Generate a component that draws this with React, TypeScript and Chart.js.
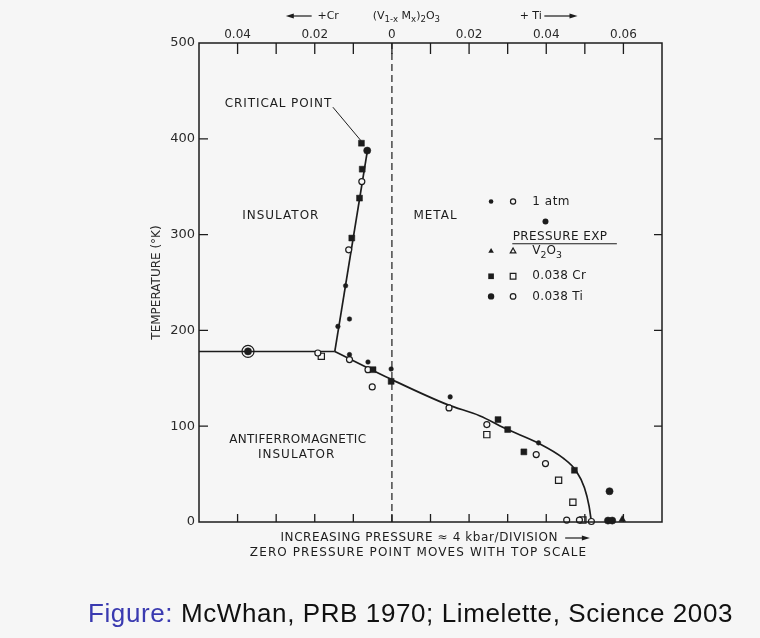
import React, { useEffect, useRef } from "react";
import { Chart, registerables } from "chart.js";

Chart.register(...registerables);

const BG = "#f6f6f6";
const INK = "#1c1c1c";
const FONT = "'DejaVu Sans', sans-serif";

// x: composition x in (V1-x Mx)2O3 (negative = Cr side, positive = Ti side); y: temperature (K)
const xMin = -0.05;
const xMax = 0.07;
const xStep = 0.01;
const yMin = 0;
const yMax = 500;
const yStep = 100;
const topTickValues = [-0.04, -0.02, 0, 0.02, 0.04, 0.06];
const topTickLabels = ["0.04", "0.02", "0", "0.02", "0.04", "0.06"];

// phase boundaries
const pmBoundaryX = [-0.05, -0.0148];
const pmBoundaryT = [178, 178];
const miBoundaryX = [-0.0148, -0.0063];
const miBoundaryT = [178, 389];
const afiBoundaryX = [-0.0148, 0.0, 0.0144, 0.0227, 0.03, 0.0378, 0.0443, 0.0478, 0.0499, 0.0511, 0.0517];
const afiBoundaryT = [178, 148.6, 122.5, 111, 96.5, 82.6, 66.9, 53, 35.7, 16.5, 0];
const zeroLineX = [0, 0];
const zeroLineT = [0, 500];

// data points (1 atm and pressure experiments)
const smallDotX = [-0.012, -0.011, -0.014, -0.011, -0.0062, -0.0002, 0.0151, 0.038];
const smallDotT = [246.6, 211.9, 204.2, 174.7, 167.0, 159.7, 130.6, 82.6];
const filledCircleX = [-0.0064, -0.0373, 0.0564, 0.056, 0.0571];
const filledCircleT = [387.7, 178.1, 32.1, 1.5, 1.5];
const ringX = [-0.0373];
const ringT = [178.1];
const filledSquareX = [-0.0079, -0.0077, -0.0084, -0.0104, -0.0049, -0.0002, 0.0275, 0.03, 0.0342, 0.0473];
const filledSquareT = [395.4, 368.3, 338.1, 296.4, 159.0, 146.8, 106.9, 96.5, 73.2, 54.0];
const openCircleX = [-0.0078, -0.0112, -0.0192, -0.011, -0.0062, -0.0051, 0.0148, 0.0246, 0.0374, 0.0398, 0.0453, 0.0486, 0.0517];
const openCircleT = [355.4, 284.1, 176.4, 169.5, 159.0, 141.0, 119.1, 101.7, 70.4, 61.0, 2, 2, 0.5];
const openSquareX = [-0.0183, 0.0246, 0.0432, 0.0469, 0.0495];
const openSquareT = [172.9, 91.2, 43.6, 20.6, 2];
const filledTriangleX = [0.0597];
const filledTriangleT = [2.5];

const zip = (xs: number[], ys: number[]) => xs.map((x, i) => ({ x, y: ys[i] }));

function drawText(ctx: any, s: string, x: number, y: number, size: number, align: string = "center", spacing = 0) {
  ctx.font = `${size}px ${FONT}`;
  ctx.textAlign = align;
  ctx.textBaseline = "middle";
  ctx.letterSpacing = `${spacing}px`;
  ctx.fillText(s, x, y);
  ctx.letterSpacing = "0px";
}

function drawPieces(ctx: any, pieces: [string, number][], x: number, y: number, size: number) {
  let cx = x;
  ctx.textAlign = "left";
  ctx.textBaseline = "middle";
  for (const [s, sub] of pieces) {
    const fs = sub ? size * 0.78 : size;
    ctx.font = `${fs}px ${FONT}`;
    ctx.fillText(s, cx, y + (sub ? size * 0.38 : 0));
    cx += ctx.measureText(s).width;
  }
}

function drawArrow(ctx: any, x1: number, x2: number, y: number) {
  const dir = x2 > x1 ? 1 : -1;
  ctx.beginPath();
  ctx.lineWidth = 1.2;
  ctx.moveTo(x1, y);
  ctx.lineTo(x2 - dir * 5, y);
  ctx.stroke();
  ctx.beginPath();
  ctx.moveTo(x2, y);
  ctx.lineTo(x2 - dir * 8, y - 2.5);
  ctx.lineTo(x2 - dir * 8, y + 2.5);
  ctx.closePath();
  ctx.fill();
}

function drawMarker(ctx: any, kind: string, x: number, y: number, r: number, filled: boolean) {
  ctx.beginPath();
  if (kind === "circle") {
    ctx.arc(x, y, r, 0, Math.PI * 2);
  } else if (kind === "rect") {
    const s = r * Math.SQRT1_2;
    ctx.rect(x - s, y - s, 2 * s, 2 * s);
  } else {
    ctx.moveTo(x, y - r);
    ctx.lineTo(x + r * 0.87, y + r * 0.5);
    ctx.lineTo(x - r * 0.87, y + r * 0.5);
    ctx.closePath();
  }
  if (filled) {
    ctx.fillStyle = INK;
    ctx.fill();
  } else {
    ctx.fillStyle = BG;
    ctx.fill();
    ctx.lineWidth = 1.2;
    ctx.strokeStyle = INK;
    ctx.stroke();
  }
}

const decorPlugin = {
  id: "decor",
  afterDatasetsDraw(chart: any) {
    const { ctx, chartArea: a, scales } = chart;
    const X = (v: number) => scales.x.getPixelForValue(v);
    const Y = (v: number) => scales.y.getPixelForValue(v);
    ctx.save();
    ctx.strokeStyle = INK;
    ctx.fillStyle = INK;

    // frame
    ctx.lineWidth = 1.5;
    ctx.strokeRect(a.left, a.top, a.right - a.left, a.bottom - a.top);

    // inward tick marks
    ctx.lineWidth = 1.3;
    ctx.beginPath();
    for (const t of scales.x2.ticks) {
      const px = X(t.value);
      if (px <= a.left + 2 || px >= a.right - 2) continue;
      ctx.moveTo(px, a.top);
      ctx.lineTo(px, a.top + 11);
      ctx.moveTo(px, a.bottom);
      ctx.lineTo(px, a.bottom - 8);
    }
    for (const t of scales.y.ticks) {
      const py = Y(t.value);
      if (py <= a.top + 2 || py >= a.bottom - 2) continue;
      ctx.moveTo(a.left, py);
      ctx.lineTo(a.left + 9, py);
      ctx.moveTo(a.right, py);
      ctx.lineTo(a.right - 8, py);
    }
    ctx.stroke();

    // header above top axis
    const hy = a.top - 27;
    drawArrow(ctx, X(-0.0208), X(-0.0275), hy);
    drawText(ctx, "+Cr", X(-0.0193), hy, 11, "left");
    drawPieces(ctx, [["(V", 0], ["1-x", 1], [" M", 0], ["x", 1], [")", 0], ["2", 1], ["O", 0], ["3", 1]], X(-0.005), hy, 11);
    drawText(ctx, "+ Ti", X(0.0331), hy, 11, "left");
    drawArrow(ctx, X(0.0395), X(0.0481), hy);

    // region labels
    drawText(ctx, "CRITICAL POINT", X(-0.0294), Y(436.4), 12, "center", 0.9);
    ctx.lineWidth = 1;
    ctx.beginPath();
    ctx.moveTo(X(-0.0153), Y(433));
    ctx.lineTo(X(-0.0076), Y(396));
    ctx.stroke();
    drawText(ctx, "INSULATOR", X(-0.0288), Y(319.6), 12, "center", 1);
    drawText(ctx, "METAL", X(0.0113), Y(319.6), 12, "center", 1);
    drawText(ctx, "ANTIFERROMAGNETIC", X(-0.0244), Y(86), 12, "center", 0.3);
    drawText(ctx, "INSULATOR", X(-0.0247), Y(70.4), 12, "center", 1);

    // bottom notes
    drawText(ctx, "INCREASING PRESSURE \u2248 4 kbar/DIVISION", X(-0.0289), a.bottom + 16, 12, "left", 0.6);
    drawArrow(ctx, X(0.0449), X(0.0513), a.bottom + 16);
    drawText(ctx, "ZERO PRESSURE POINT MOVES WITH TOP SCALE", X(0.0069), a.bottom + 31, 12, "center", 1.1);

    // legend
    const c1 = X(0.0257);
    const c2 = X(0.0314);
    const tx = X(0.0364);
    let y = Y(334.5);
    drawMarker(ctx, "circle", c1, y, 2.3, true);
    drawMarker(ctx, "circle", c2, y, 2.6, false);
    ctx.fillStyle = INK;
    drawText(ctx, "1 atm", tx, y, 12, "left", 0.5);
    drawMarker(ctx, "circle", X(0.0398), Y(313.7), 3, true);
    ctx.fillStyle = INK;
    y = Y(297.7);
    drawText(ctx, "PRESSURE EXP", X(0.0313), y, 12, "left", 0.4);
    ctx.lineWidth = 1.1;
    ctx.beginPath();
    ctx.moveTo(X(0.0312), y + 7);
    ctx.lineTo(X(0.0583), y + 7);
    ctx.stroke();
    y = Y(282.6);
    drawMarker(ctx, "triangle", c1, y, 3.2, true);
    drawMarker(ctx, "triangle", c2, y, 3.2, false);
    ctx.fillStyle = INK;
    drawPieces(ctx, [["V", 0], ["2", 1], ["O", 0], ["3", 1]], tx, y, 12);
    y = Y(256.5);
    drawMarker(ctx, "rect", c1, y, 4, true);
    drawMarker(ctx, "rect", c2, y, 4, false);
    ctx.fillStyle = INK;
    drawText(ctx, "0.038 Cr", tx, y, 12, "left", 0.3);
    y = Y(235.5);
    drawMarker(ctx, "circle", c1, y, 3.2, true);
    drawMarker(ctx, "circle", c2, y, 2.8, false);
    ctx.fillStyle = INK;
    drawText(ctx, "0.038 Ti", tx, y, 12, "left", 0.3);

    ctx.restore();
  },
};

export default function App() {
  const canvasRef = useRef<HTMLCanvasElement | null>(null);

  useEffect(() => {
    document.body.style.margin = "0";
    document.body.style.background = BG;
    const canvas = canvasRef.current;
    if (!canvas) return;

    const lineDs = (xs: number[], ys: number[], extra: any = {}) => ({
      type: "line",
      data: zip(xs, ys),
      borderColor: INK,
      borderWidth: 1.7,
      pointRadius: 0,
      fill: false,
      showLine: true,
      order: 10,
      clip: false,
      ...extra,
    });
    const ptDs = (xs: number[], ys: number[], style: string, r: number, filled: boolean, hollow = false) => ({
      type: "scatter",
      data: zip(xs, ys),
      pointStyle: style,
      pointRadius: r,
      pointBackgroundColor: filled ? INK : hollow ? "rgba(0,0,0,0)" : BG,
      pointBorderColor: INK,
      pointBorderWidth: filled ? 0.5 : 1.2,
      showLine: false,
      order: 1,
      clip: false,
    });

    const chart = new Chart(canvas, {
      type: "scatter",
      data: {
        datasets: [
          lineDs(zeroLineX, zeroLineT, { borderDash: [7, 4], borderWidth: 1.2, order: 12 }),
          lineDs(pmBoundaryX, pmBoundaryT),
          lineDs(miBoundaryX, miBoundaryT),
          lineDs(afiBoundaryX, afiBoundaryT, { tension: 0.35, cubicInterpolationMode: "monotone" }),
          ptDs(ringX, ringT, "circle", 6, false, true),
          ptDs(smallDotX, smallDotT, "circle", 2.3, true),
          ptDs(filledCircleX, filledCircleT, "circle", 3.6, true),
          ptDs(filledSquareX, filledSquareT, "rect", 4.2, true),
          ptDs(openCircleX, openCircleT, "circle", 3, false),
          ptDs(openSquareX, openSquareT, "rect", 4.4, false),
          ptDs(filledTriangleX, filledTriangleT, "triangle", 4, true),
        ] as any,
      },
      options: {
        responsive: false,
        maintainAspectRatio: false,
        animation: false,
        events: [],
        layout: { padding: 0 },
        plugins: { legend: { display: false }, tooltip: { enabled: false } },
        scales: {
          x: {
            type: "linear",
            position: "bottom",
            min: xMin,
            max: xMax,
            grid: { display: false },
            border: { display: false },
            ticks: { display: false },
            afterFit: (s: any) => {
              s.height = 116;
            },
          },
          x2: {
            type: "linear",
            axis: "x",
            position: "top",
            min: xMin,
            max: xMax,
            grid: { display: false, drawTicks: false },
            border: { display: false },
            ticks: {
              stepSize: xStep,
              autoSkip: false,
              maxRotation: 0,
              padding: 1,
              color: "#2a2a2a",
              font: { family: FONT, size: 12 },
              callback: (v: any) => {
                const i = topTickValues.findIndex((t) => Math.abs(t - Number(v)) < 1e-6);
                return i >= 0 ? topTickLabels[i] : "";
              },
            },
            afterFit: (s: any) => {
              s.height = 43;
            },
          },
          y: {
            type: "linear",
            position: "left",
            min: yMin,
            max: yMax,
            grid: { display: false, drawTicks: false },
            border: { display: false },
            ticks: {
              stepSize: yStep,
              padding: 4,
              color: "#2a2a2a",
              font: { family: FONT, size: 13 },
            },
            title: {
              display: true,
              text: "TEMPERATURE (\u00B0K)",
              color: "#2a2a2a",
              font: { family: FONT, size: 12 },
              padding: { top: 150, bottom: 0 },
            },
            afterFit: (s: any) => {
              s.width = 199;
            },
          },
          y2: {
            type: "linear",
            position: "right",
            min: yMin,
            max: yMax,
            grid: { display: false },
            border: { display: false },
            ticks: { display: false, stepSize: yStep },
            afterFit: (s: any) => {
              s.width = 98;
            },
          },
        },
      } as any,
      plugins: [decorPlugin],
    });

    return () => chart.destroy();
  }, []);

  return (
    <div style={{ position: "relative", width: 760, height: 638, background: BG, overflow: "hidden" }}>
      <canvas ref={canvasRef} width={760} height={638} style={{ display: "block" }} />
      <div
        style={{
          position: "absolute",
          left: 88,
          top: 600,
          fontFamily: "'Liberation Sans', Arial, sans-serif",
          fontSize: 26,
          lineHeight: 1,
          letterSpacing: "0.6px",
          whiteSpace: "nowrap",
          color: "#111",
        }}
      >
        <span style={{ color: "#3a3ab0" }}>Figure:</span> McWhan, PRB 1970; Limelette, Science 2003
      </div>
    </div>
  );
}
